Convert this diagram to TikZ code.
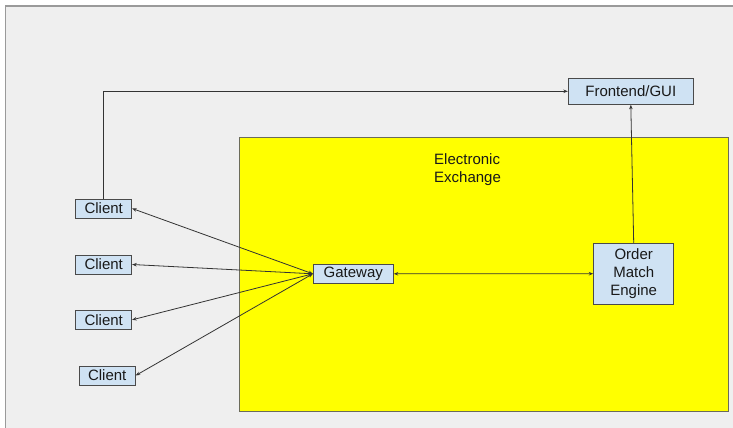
\documentclass[tikz,border=0pt]{standalone}
\usepackage{fontspec}
\setmainfont{Liberation Sans}
\usetikzlibrary{arrows.meta}
\definecolor{bg}{HTML}{EFEFEF}
\definecolor{frame}{HTML}{9A9A9A}
\definecolor{boxfill}{HTML}{CFE2F3}
\definecolor{boxline}{HTML}{4A4A4A}
\definecolor{exch}{HTML}{FFFF00}
\definecolor{exline}{HTML}{6B6B5A}
\tikzset{
  blk/.style={draw=boxline, fill=boxfill, line width=0.9pt, inner sep=0pt,
    font=\fontsize{15}{17.6}\selectfont, text=black!90, align=center},
  conn/.style={draw=black!80, line width=0.8pt, {Stealth[length=4.5pt,width=3.5pt]}-{Stealth[length=4.5pt,width=3.5pt]}},
  oneway/.style={draw=black!80, line width=0.8pt, -{Stealth[length=4.5pt,width=3.5pt]}}
}
\begin{document}
\begin{tikzpicture}[x=1pt,y=-1pt]
\useasboundingbox (0,0) rectangle (733,428);
\fill[white] (0,0) rectangle (733,428);
\fill[bg] (5.5,6) rectangle (733,428);
\draw[frame, line width=1.2pt] (5.5,428) -- (5.5,6) -- (733,6);
\node[draw=exline, fill=exch, line width=0.9pt, minimum width=489pt, minimum height=274pt, inner sep=0pt] (ex) at (483.5,274) {};
\node[font=\fontsize{15}{17.6}\selectfont, text=black!90, align=left, anchor=north west, inner sep=0pt] (extitle) at (434,153.5) {Electronic\\Exchange};
\node[blk, minimum width=56pt, minimum height=19pt] (c1) at (103.7,208.5) {Client};
\node[blk, minimum width=56pt, minimum height=19pt] (c2) at (103.7,264.5) {Client};
\node[blk, minimum width=56pt, minimum height=19pt] (c3) at (103.7,319.8) {Client};
\node[blk, minimum width=56pt, minimum height=19pt] (c4) at (107.2,375.5) {Client};
\node[blk, minimum width=80pt, minimum height=19pt] (gw) at (353.3,273.8) {Gateway};
\node[blk, minimum width=125pt, minimum height=26pt] (fe) at (630.8,91.3) {Frontend/GUI};
\node[blk, minimum width=80pt, minimum height=61pt] (eng) at (633.7,273.7) {Order\\Match\\Engine};
\draw[conn] (c1.east) -- (gw.west);
\draw[conn] (c2.east) -- (gw.west);
\draw[conn] (c3.east) -- (gw.west);
\draw[conn] (c4.east) -- (gw.west);
\draw[conn] (gw.east) -- (eng.west);
\draw[oneway] (c1.north) |- (fe.west);
\draw[oneway] (eng.north) -- (fe.south);
\end{tikzpicture}
\end{document}
